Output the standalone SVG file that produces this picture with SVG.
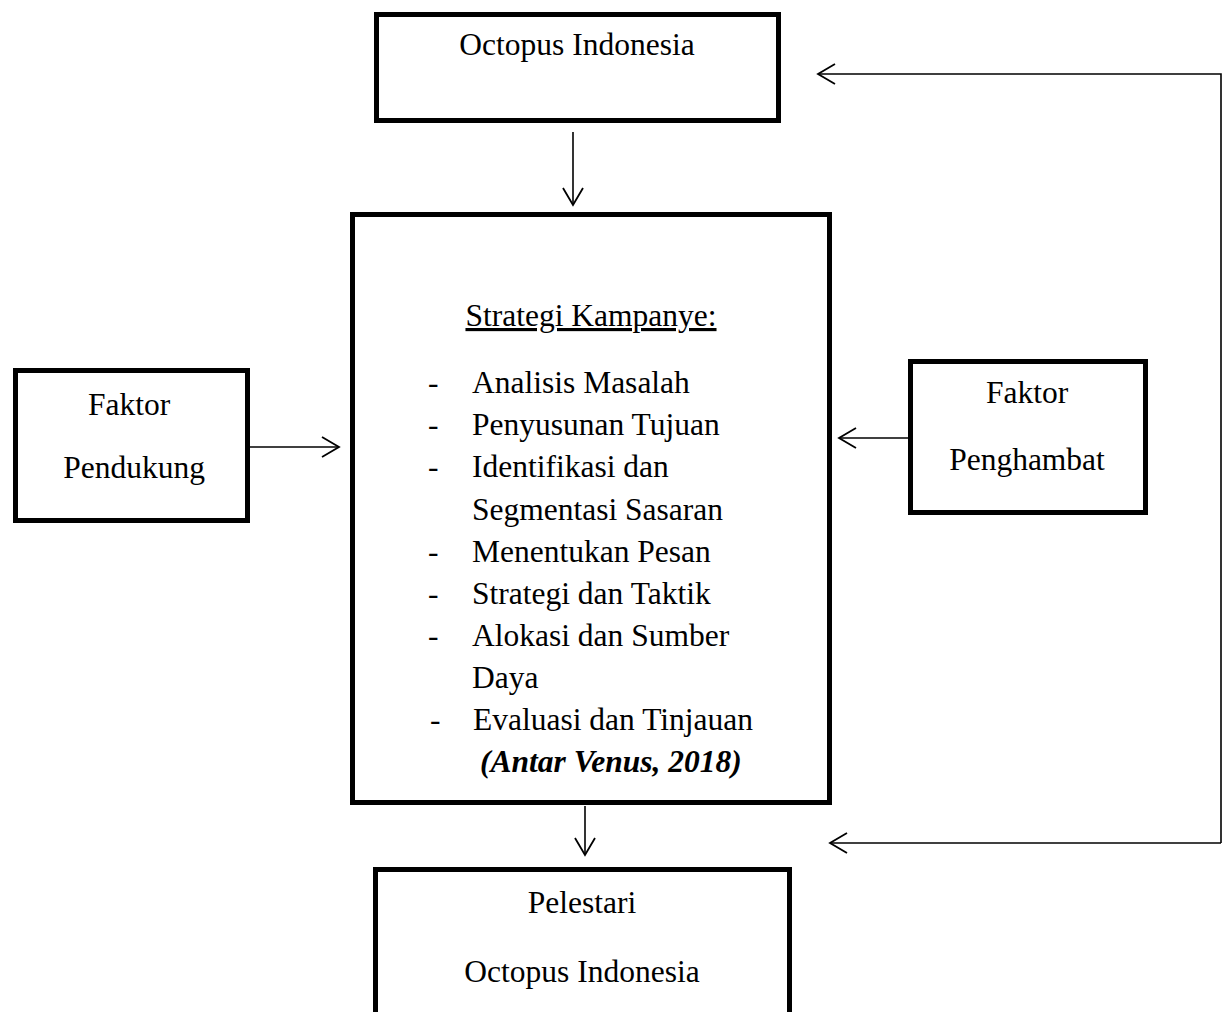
<svg xmlns="http://www.w3.org/2000/svg" width="1232" height="1012" viewBox="0 0 1232 1012">
<style>
.box{fill:#fff;stroke:#000;stroke-width:5}
.t{font-family:"Liberation Serif","Times New Roman",serif;font-size:31.5px;fill:#000}
.c{text-anchor:middle}
.ln{fill:none;stroke:#000;stroke-width:1.6}
</style>
<defs>
<marker id="ah" viewBox="-19 -12 21 24" markerWidth="21" markerHeight="24" refX="0" refY="0" orient="auto" markerUnits="userSpaceOnUse">
<path d="M-17,-10 L0,0 L-17,10" fill="none" stroke="#000" stroke-width="1.8"/>
</marker>
</defs>
<rect width="1232" height="1012" fill="#fff"/>
<g id="connectors">
<line class="ln" x1="573" y1="132" x2="573" y2="205" marker-end="url(#ah)"/>
<line class="ln" x1="250" y1="447" x2="339" y2="447" marker-end="url(#ah)"/>
<line class="ln" x1="908" y1="438" x2="839" y2="438" marker-end="url(#ah)"/>
<line class="ln" x1="585" y1="806" x2="585" y2="855" marker-end="url(#ah)"/>
<polyline class="ln" points="1221,843 1221,74 818,74" marker-end="url(#ah)"/>
<polyline class="ln" points="1221,843 830,843" marker-end="url(#ah)"/>
</g>
<g id="octopus">
<rect class="box" x="376.5" y="14.5" width="402" height="106"/>
<text class="t c" x="577" y="55">Octopus Indonesia</text>
</g>
<g id="strategi">
<rect class="box" x="352.5" y="214.5" width="477" height="588"/>
<text class="t c" x="591" y="326" text-decoration="underline">Strategi Kampanye:</text>
<g class="t">
<text x="428" y="393">-</text><text x="472" y="393">Analisis Masalah</text>
<text x="428" y="435">-</text><text x="472" y="435">Penyusunan Tujuan</text>
<text x="428" y="477">-</text><text x="472" y="477">Identifikasi dan</text>
<text x="472" y="520">Segmentasi Sasaran</text>
<text x="428" y="562">-</text><text x="472" y="562">Menentukan Pesan</text>
<text x="428" y="604">-</text><text x="472" y="604">Strategi dan Taktik</text>
<text x="428" y="646">-</text><text x="472" y="646">Alokasi dan Sumber</text>
<text x="472" y="688">Daya</text>
<text x="430" y="730">-</text><text x="473" y="730">Evaluasi dan Tinjauan</text>
<text x="480" y="772" font-weight="bold" font-style="italic">(Antar Venus, 2018)</text>
</g>
</g>
<g id="pendukung">
<rect class="box" x="15.5" y="370.5" width="232" height="150"/>
<text class="t c" x="129" y="415">Faktor</text>
<text class="t c" x="134" y="478">Pendukung</text>
</g>
<g id="penghambat">
<rect class="box" x="910.5" y="361.5" width="235" height="151"/>
<text class="t c" x="1027" y="403">Faktor</text>
<text class="t c" x="1027" y="470">Penghambat</text>
</g>
<g id="pelestari">
<rect class="box" x="375.5" y="869.5" width="414" height="200"/>
<text class="t c" x="582" y="913">Pelestari</text>
<text class="t c" x="582" y="982">Octopus Indonesia</text>
</g>
</svg>
